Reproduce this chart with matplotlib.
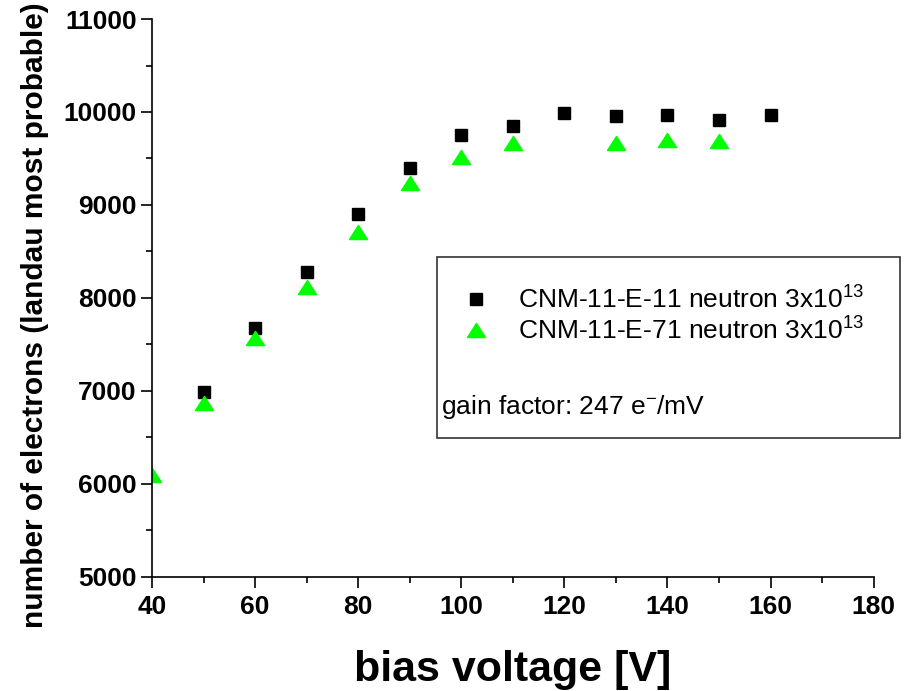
import numpy as np
import matplotlib.pyplot as plt
from matplotlib.patches import Rectangle

plt.rcParams['font.family'] = ['Liberation Sans', 'DejaVu Sans']
plt.rcParams['mathtext.fontset'] = 'custom'
plt.rcParams['mathtext.rm'] = 'Liberation Sans'
plt.rcParams['mathtext.it'] = 'Liberation Sans'
plt.rcParams['mathtext.bf'] = 'Liberation Sans:bold'

# data
bias_e11 = [50, 60, 70, 80, 90, 100, 110, 120, 130, 140, 150, 160]
electrons_e11 = [6990, 7680, 8280, 8905, 9400, 9755, 9850, 9990, 9960, 9970, 9915, 9970]

bias_e71 = [40, 50, 60, 70, 80, 90, 100, 110, 130, 140, 150]
electrons_e71 = [6100, 6870, 7570, 8120, 8710, 9235, 9515, 9665, 9665, 9695, 9690]

label_e11 = 'CNM-11-E-11 neutron 3x10$^{13}$'
label_e71 = 'CNM-11-E-71 neutron 3x10$^{13}$'
note = 'gain factor: 247 e$^{-}$/mV'

# flattened triangle marker
tri = [(-1, -0.78), (1, -0.78), (0, 0.78), (-1, -0.78)]

fig = plt.figure(figsize=(9.1, 6.91), dpi=100)
ax = fig.add_axes([0.167, 0.165, 0.793, 0.8075])

ax.plot(bias_e11, electrons_e11, linestyle='none', marker='s', ms=8.5,
        color='black', label=label_e11)
ax.plot(bias_e71, electrons_e71, linestyle='none', marker=tri, ms=13,
        color='#00ff00', label=label_e71, clip_on=True)

ax.set_xlim(40, 180)
ax.set_ylim(5000, 11000)
ax.set_xticks(np.arange(40, 181, 20))
ax.set_xticks(np.arange(50, 180, 20), minor=True)
ax.set_yticks(np.arange(5000, 11001, 1000))
ax.set_yticks(np.arange(5500, 11000, 1000), minor=True)

for s in ['top', 'right']:
    ax.spines[s].set_visible(False)
for s in ['left', 'bottom']:
    ax.spines[s].set_linewidth(1.2)

ax.tick_params(which='major', direction='out', length=8, width=1.2,
               labelsize=19, pad=3)
ax.tick_params(axis='x', which='major', pad=5)
ax.tick_params(which='minor', direction='out', length=4.5, width=1.2)
for lab in ax.get_xticklabels() + ax.get_yticklabels():
    lab.set_fontweight('bold')

ax.set_xlabel('bias voltage [V]', fontsize=31, fontweight='bold', labelpad=22)
ax.set_ylabel('number of electrons (landau most probable)', fontsize=21.5,
              fontweight='bold')
ax.yaxis.set_label_coords(-0.142, 0.47)

# legend box
box = Rectangle((437 / 910, 1 - 438 / 691), (900 - 437) / 910, (438 - 257) / 691,
                transform=fig.transFigure, fill=False, edgecolor='#333333',
                linewidth=1.2)
fig.patches.append(box)

leg = ax.legend(loc='upper left', bbox_to_anchor=(447 / 910, 1 - 273 / 691),
                bbox_transform=fig.transFigure, frameon=False, fontsize=19,
                handlelength=1.2, handletextpad=1.0, labelspacing=0.15,
                borderpad=0)
fig.text(441 / 910, 1 - 407 / 691, note, fontsize=19, va='center', ha='left')

fig.savefig('out.png', dpi=100)
